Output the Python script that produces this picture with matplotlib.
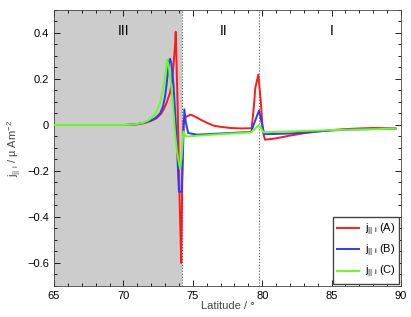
import numpy as np
import matplotlib
matplotlib.use('Agg')
import matplotlib.pyplot as plt
from matplotlib.ticker import MultipleLocator

plt.rcParams['font.family'] = ['Liberation Sans', 'DejaVu Sans']
plt.rcParams['font.size'] = 8
plt.rcParams['mathtext.fontset'] = 'custom'
plt.rcParams['mathtext.rm'] = 'Liberation Sans'
plt.rcParams['mathtext.it'] = 'Liberation Sans'

# current A (red)
lat_a = [65, 70, 70.5, 71, 71.5, 72, 72.4, 72.7, 72.9, 73.1, 73.36, 73.5, 73.6,
         73.7, 73.77, 73.9, 74.0, 74.1, 74.17, 74.25, 74.32, 74.5, 74.85, 75.2,
         75.6, 76, 76.5, 77, 77.7, 78.5, 79.24, 79.4, 79.5, 79.72, 79.9, 80.05,
         80.2, 81, 82, 83, 84, 85, 86, 87, 88, 89.6]
j_a = [0, 0, 0.001, 0.003, 0.008, 0.018, 0.03, 0.048, 0.067, 0.095, 0.14, 0.19, 0.256,
       0.33, 0.405, 0.1, -0.2, -0.45, -0.6, -0.2, 0.02, 0.035, 0.045, 0.035,
       0.022, 0.01, -0.003, -0.008, -0.013, -0.015, -0.014, 0.08, 0.16, 0.219, 0.1, -0.03,
       -0.064, -0.058, -0.046, -0.036, -0.028, -0.022, -0.018, -0.015, -0.013, -0.015]

# current B (blue)
lat_b = [65, 70, 70.5, 71, 71.5, 72, 72.3, 72.64, 72.85, 73.0, 73.1, 73.2, 73.3,
         73.36, 73.45, 73.6, 73.72, 73.84, 73.95, 74.0, 74.2, 74.3, 74.39, 74.5,
         74.67, 75.3, 77, 79.2, 79.5, 79.77, 80.0, 80.15, 82, 84, 86, 89.6]
j_b = [0, 0, 0.001, 0.004, 0.01, 0.02, 0.03, 0.05, 0.08, 0.125, 0.17, 0.227, 0.28,
       0.288, 0.27, 0.18, 0.06, -0.064, -0.22, -0.29, -0.29, -0.1, 0.068, 0.01,
       -0.035, -0.042, -0.037, -0.03, 0.02, 0.063, 0.0, -0.04, -0.037, -0.028, -0.02, -0.016]

# current C (green)
lat_c = [65, 70, 70.5, 70.8, 71.2, 71.44, 71.8, 72.16, 72.4, 72.64, 72.8, 72.9,
         73.0, 73.1, 73.16, 73.3, 73.48, 73.6, 73.72, 73.85, 73.96, 74.08, 74.2,
         74.32, 74.45, 74.56, 75, 77, 79.2, 79.5, 79.77, 80.1, 82, 85, 89.6]
j_c = [0, 0, 0.001, 0.003, 0.007, 0.01, 0.02, 0.038, 0.06, 0.096, 0.14, 0.17,
       0.21, 0.26, 0.285, 0.24, 0.154, 0.06, -0.035, -0.11, -0.15, -0.19, -0.137,
       -0.028, -0.045, -0.05, -0.048, -0.04, -0.032, -0.015, 0.0, -0.032, -0.028, -0.022, -0.016]

boundaries = [74.2, 79.75]
regions = ['III', 'II', 'I']
region_x = [70.0, 77.25, 85.0]

fig = plt.figure(figsize=(4.11, 3.17), dpi=100)
ax = fig.add_axes([0.1314, 0.0978, 0.8443, 0.8707])

ax.axvspan(65, boundaries[0], color='#cccccc', lw=0, zorder=0)
for b in boundaries:
    ax.axvline(b, color='#555555', ls=':', lw=0.8, zorder=1)

lab = r'j$_{||\ i}$'
ax.plot(lat_a, j_a, color='#ff1a1a', lw=1.4, label=lab + ' (A)', zorder=3)
ax.plot(lat_b, j_b, color='#2a3cff', lw=1.4, label=lab + ' (B)', zorder=4)
ax.plot(lat_c, j_c, color='#66ff1a', lw=1.4, label=lab + ' (C)', zorder=5)

for name, x in zip(regions, region_x):
    ax.text(x, 0.41, name, ha='center', va='center', fontsize=10)

ax.set_xlim(65, 90)
ax.set_ylim(-0.7, 0.5)
ax.set_yticks([-0.6, -0.4, -0.2, 0, 0.2, 0.4])
ax.set_yticklabels(['\u22120.6', '\u22120.4', '\u22120.2', '0', '0.2', '0.4'])
ax.xaxis.set_major_locator(MultipleLocator(5))
ax.xaxis.set_minor_locator(MultipleLocator(1))
ax.yaxis.set_minor_locator(MultipleLocator(0.05))
ax.tick_params(which='both', direction='in', top=True, right=True, width=0.6)
ax.tick_params(which='major', length=4)
ax.tick_params(which='minor', length=2)
for s in ax.spines.values():
    s.set_linewidth(0.6)
    s.set_color('#444444')

ax.set_xlabel('Latitude / \u00b0', labelpad=0, color='#444444')
ax.set_ylabel('j$_{||\\ i}$ / \u00b5 Am$^{-2}$', labelpad=2, color='#444444')

leg = ax.legend(loc='lower right', fancybox=False, framealpha=1, edgecolor='#444444',
                handlelength=2.0, handletextpad=0.5, borderaxespad=0.15,
                borderpad=0.35, labelspacing=0.45, fontsize=8)
leg.get_frame().set_linewidth(1.0)

fig.savefig('out.png', dpi=100)
